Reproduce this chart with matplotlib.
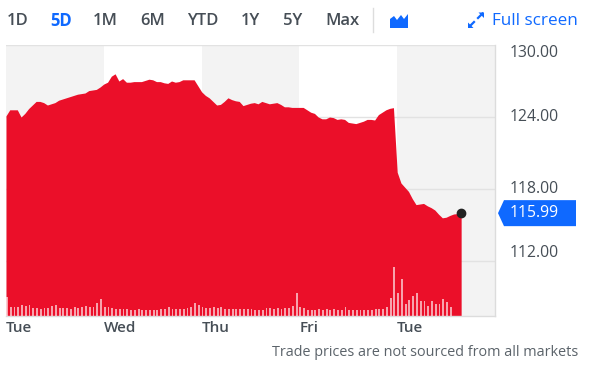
import matplotlib.pyplot as plt
import matplotlib.transforms as mtransforms
from matplotlib.patches import Polygon
from matplotlib.lines import Line2D
import numpy as np

plt.rcParams['font.family'] = ['Open Sans', 'DejaVu Sans']

# 15-minute bars, 26 per trading day
days = ['Tue', 'Wed', 'Thu', 'Fri', 'Tue']
bars_per_day = 26

tue1 = [124.1, 124.6, 124.6, 124.6, 124.0, 124.3, 124.7, 125.0, 125.3, 125.3, 125.2, 125.0, 125.1,
        125.2, 125.4, 125.5, 125.6, 125.7, 125.8, 125.9, 125.95, 126.0, 126.2, 126.25, 126.3, 126.5]
wed = [126.75, 126.9, 127.4, 127.6, 127.0, 127.2, 126.9, 126.9, 126.95, 126.95, 126.95, 127.05, 127.15,
       127.1, 126.95, 126.95, 126.85, 126.8, 127.0, 126.9, 126.95, 127.1, 127.1, 127.1, 127.1, 126.6]
thu = [126.1, 125.8, 125.6, 125.3, 125.0, 125.05, 125.3, 125.6, 125.45, 125.35, 125.3, 124.95, 125.05,
       125.15, 125.2, 125.1, 125.3, 125.2, 125.1, 125.15, 125.2, 125.05, 124.85, 124.85, 124.8, 124.8]
fri = [124.8, 124.8, 124.6, 124.4, 124.3, 124.0, 123.85, 123.85, 124.0, 123.95, 123.8, 123.85, 123.8,
       123.55, 123.5, 123.45, 123.55, 123.65, 123.8, 123.8, 123.75, 124.2, 124.4, 124.6, 124.72, 124.78]
tue2 = [119.4, 118.5, 118.15, 117.8, 117.2, 116.7, 116.75, 116.8, 116.6, 116.45, 116.25, 115.9,
        115.6, 115.65, 115.8, 115.92, 115.95, 115.99]
prices = tue1 + wed + thu + fri + tue2

# volume (relative units)
vol_tue1 = [19, 9, 9, 9, 11, 10, 11, 8, 8, 7, 8, 8, 10, 11, 8, 8, 8, 7, 9, 8, 9, 10, 9, 9, 13, 17]
vol_wed = [9, 9, 8, 7, 7, 7, 7, 6, 6, 7, 6, 6, 6, 6, 6, 7, 7, 9, 7, 7, 7, 7, 8, 9, 13, 11]
vol_thu = [9, 8, 8, 9, 8, 9, 7, 7, 7, 7, 7, 7, 7, 7, 6, 6, 6, 8, 8, 7, 8, 7, 8, 8, 10, 23]
vol_fri = [9, 8, 6, 6, 6, 7, 6, 7, 6, 7, 6, 6, 9, 6, 6, 6, 6, 6, 6, 6, 7, 7, 7, 9, 18, 49]
vol_tue2 = [23, 37, 12, 16, 20, 23, 15, 15, 10, 15, 12, 12, 17, 14, 9]
volume = vol_tue1 + vol_wed + vol_thu + vol_fri + vol_tue2

y_ticks = [130, 124, 118, 112]

RED = '#eb0f29'
BLUE = '#0f69ff'
TXT = '#464e56'

W, H = 593, 382
fig = plt.figure(figsize=(W / 100, H / 100), dpi=100)
ax = fig.add_axes([6 / W, 1 - 316 / H, 489 / W, 271 / H])

def fx(px):
    return px / W

def fy(py):
    return 1 - py / H

n_slots = bars_per_day * len(days)
ax.set_xlim(0, n_slots)
ax.set_ylim(107.42, 130)

# day shading
for d in range(len(days)):
    if d % 2 == 0:
        ax.axvspan(d * bars_per_day, (d + 1) * bars_per_day, color='#f3f3f3', lw=0, zorder=0)

for t in y_ticks:
    ax.axhline(t, color='#e2e2e2', lw=1, zorder=1)

x = np.arange(len(prices))
ax.fill_between(x, prices, 107.42, color=RED, lw=0, zorder=2)
ax.plot(x[-1], prices[-1], 'o', color='#222222', ms=6, zorder=5)

# volume bars on twin axis
ax2 = ax.twinx()
ax2.set_ylim(0, max(volume) * 5.5)
ax2.bar(np.arange(len(volume)), volume, width=0.5, align='edge',
        color='white', alpha=0.62, lw=0, zorder=3)
ax2.axis('off')

ax.set_xticks([])
ax.set_yticks([])
for s in ['left', 'top']:
    ax.spines[s].set_visible(False)
for s in ['right', 'bottom']:
    ax.spines[s].set_color('#dcdcdc')
    ax.spines[s].set_linewidth(1)

# y labels (shifted at the edges like the original)
ytr = mtransforms.blended_transform_factory(fig.transFigure, ax.transData)
offsets = {130: -0.65, 124: 0, 118: 0, 112: 0.65}
for t in y_ticks:
    ax.text(fx(510), t + offsets[t], f'{t:.2f}', transform=ytr, ha='left', va='center',
            fontsize=11.3, color=TXT, clip_on=False)

# last price tag
last = prices[-1]
hh = 13 / 12
tag = Polygon([(fx(498), last), (fx(504), last + hh), (fx(576), last + hh),
               (fx(576), last - hh), (fx(504), last - hh)], closed=True,
              transform=ytr, fc=BLUE, ec='none', clip_on=False, zorder=6)
ax.add_artist(tag)
ax.text(fx(510), last, f'{last:.2f}', transform=ytr, ha='left', va='center',
        fontsize=11.3, color='white', clip_on=False, zorder=7)

# x day labels
xtr = mtransforms.blended_transform_factory(ax.transData, fig.transFigure)
for d, name in enumerate(days):
    ax.text(d * bars_per_day, fy(328), name, transform=xtr,
            ha='left', va='center', fontsize=11, fontweight='semibold', color=TXT, clip_on=False)

# range buttons
ranges = ['1D', '5D', '1M', '6M', 'YTD', '1Y', '5Y', 'Max']
range_x = [7, 50, 93, 140, 187, 241, 283, 325]
for lab, px in zip(ranges, range_x):
    active = lab == '5D'
    fig.text(fx(px), fy(21), lab, ha='left', va='center', fontsize=12,
             fontweight='bold' if active else 'semibold', color=BLUE if active else TXT)

fig.add_artist(Line2D([fx(373), fx(373)], [fy(8), fy(32)], color='#dddddd', lw=1,
                      transform=fig.transFigure))

# area chart icon
icon = [(390, 28), (390, 19), (394, 16), (397, 20), (401, 15), (404, 19), (408, 14), (408, 28)]
fig.add_artist(Polygon([(fx(a), fy(b)) for a, b in icon], closed=True, fc=BLUE, ec='none',
                       transform=fig.transFigure))

# full screen icon
for (x0, y0, x1, y1) in [(474, 22, 469.5, 26.5), (478, 18, 482.5, 13.5)]:
    fig.add_artist(Line2D([fx(x0), fx(x1)], [fy(y0), fy(y1)], color=BLUE, lw=1.6,
                          transform=fig.transFigure))
fig.add_artist(Polygon([(fx(468), fy(28)), (fx(468), fy(22.5)), (fx(473.5), fy(28))], closed=True,
                       fc=BLUE, ec='none', transform=fig.transFigure))
fig.add_artist(Polygon([(fx(484), fy(12.5)), (fx(484), fy(18)), (fx(478.5), fy(12.5))], closed=True,
                       fc=BLUE, ec='none', transform=fig.transFigure))
fig.text(fx(492), fy(21), 'Full screen', ha='left', va='center', fontsize=12.3, color=BLUE)

fig.text(fx(578), fy(352), 'Trade prices are not sourced from all markets', ha='right', va='center',
         fontsize=10.4, color='#5b636a')

fig.savefig('out.png', dpi=100, facecolor='white')
